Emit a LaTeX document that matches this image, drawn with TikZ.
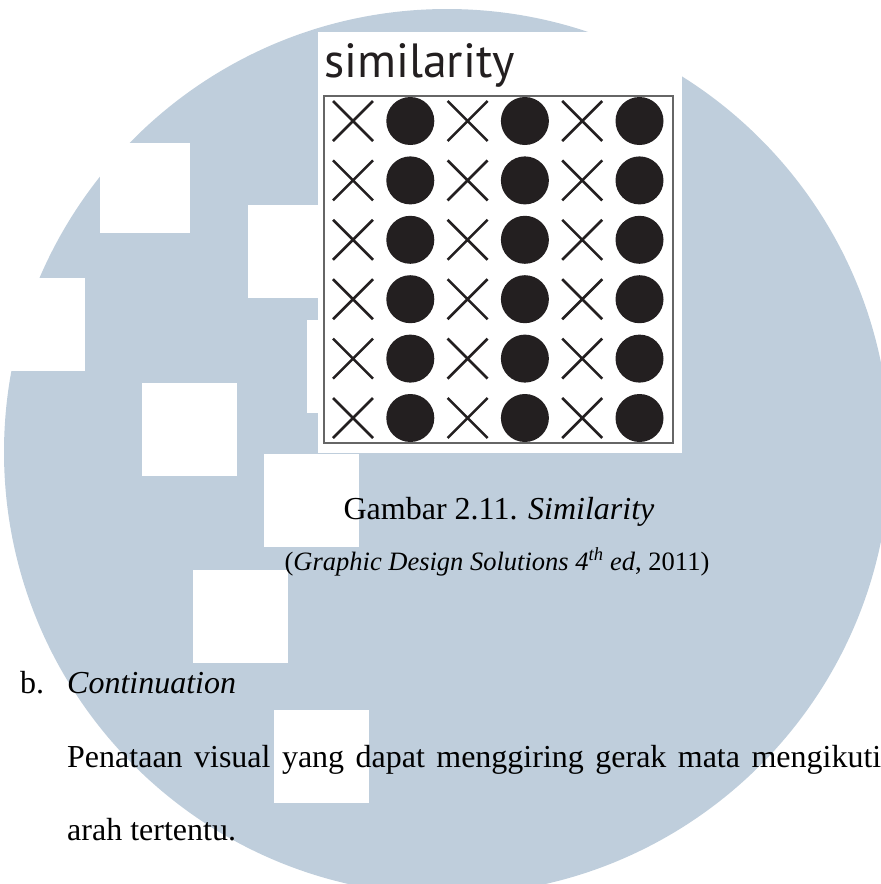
\documentclass[tikz,border=0pt]{standalone}
\usepackage{fontspec}
\setmainfont{Liberation Serif}
\newfontfamily\titlefont{PT Sans}
\usetikzlibrary{positioning}
\definecolor{wmblue}{RGB}{191,206,220}
\definecolor{inkgray}{RGB}{35,31,32}
\tikzset{
  patch/.style={fill=white},
  xmark/.style={draw=inkgray, line width=2.6pt},
  dotmark/.style={fill=inkgray},
  txt/.style={font=\fontsize{32}{38}\selectfont, inner sep=0pt, anchor=base west},
}
\begin{document}
\begin{tikzpicture}[x=1pt, y=-1pt]
\useasboundingbox (0,0) rectangle (881,884);
% watermark
\fill[wmblue] (447,452) circle (443pt);
\fill[patch] (100,143) rectangle ++(90,90);
\foreach \a/\b in {248/205, -10/278, 142/383, 307/320, 264/454, 193/570, 274/710}
  \fill[patch] (\a,\b) rectangle ++(95,93);
% figure panel
\fill[white] (318,32) rectangle (682,453);
\node[anchor=base west, inner sep=0pt, text=inkgray,
  font=\titlefont\fontsize{48}{54}\selectfont] (title) at (324,77) {similarity};
\draw[line width=1.2pt, gray!80!black] (324,96) rectangle (673,443);
\foreach \r in {0,...,5}
  \foreach \c in {0,1,2}{
    \pgfmathsetmacro\xx{353+114.6*\c}
    \pgfmathsetmacro\yy{121+59.4*\r}
    \draw[xmark] (\xx-20,\yy-20) -- (\xx+20,\yy+20) (\xx-20,\yy+20) -- (\xx+20,\yy-20);
    \fill[dotmark] (\xx+57.3,\yy) circle (24pt);
  }
% caption
\node[txt, anchor=base] (caption) at (499,519) {Gambar 2.11. \textit{Similarity}};
\node[txt, anchor=base, font=\fontsize{26.5}{30}\selectfont] (source) at (497,570)
  {(\textit{Graphic Design Solutions 4\textsuperscript{th} ed}, 2011)};
% body text
\node[txt] (item) at (20,693) {b.};
\node[txt] (heading) at (67,693) {\textit{Continuation}};
\node[txt] (line1) at (67,767) {\makebox[814pt][s]{Penataan visual yang dapat menggiring gerak mata mengikuti}};
\node[txt] (line2) at (67,840) {arah tertentu.};
\end{tikzpicture}
\end{document}
